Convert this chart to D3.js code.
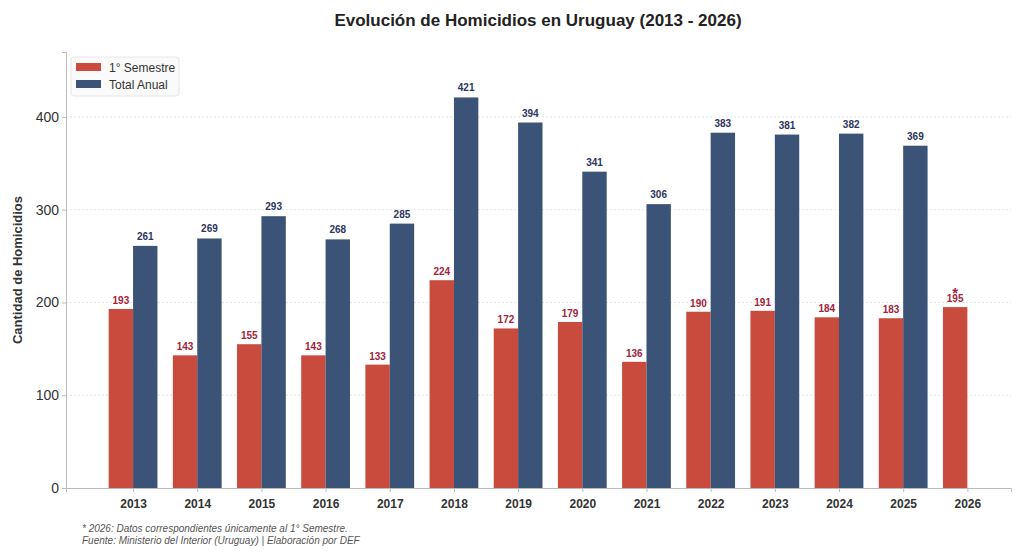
<!DOCTYPE html>
<html><head><meta charset="utf-8">
<script src="https://cdn.jsdelivr.net/npm/d3@7"></script>
<style>body{margin:0;background:#fff;font-family:"Liberation Sans",Arial,sans-serif;}</style>
</head><body><div id="chart"></div>
<script>
var years = ["2013","2014","2015","2016","2017","2018","2019","2020","2021","2022","2023","2024","2025","2026"];
var semestre = [193,143,155,143,133,224,172,179,136,190,191,184,183,195];
var anual = [261,269,293,268,285,421,394,341,306,383,381,382,369,null];
var yTicks = [0,100,200,300,400];

var w = 1024, h = 555;
var mLeft = 66, mRight = 1011, mTop = 52, mBottom = 488;
var red = "#c84b3d", blue = "#3a5377";

var svg = d3.select("#chart").append("svg").attr("width", w).attr("height", h);

var x = d3.scaleLinear().domain([-1.045, 13.68]).range([mLeft, mRight]);
var y = d3.scaleLinear().domain([0, 470]).range([mBottom, mTop]);
var bw = 0.38;

// grid
svg.append("g").selectAll("line").data(yTicks.slice(1)).enter().append("line")
  .attr("x1", mLeft).attr("x2", mRight).attr("y1", d => y(d)).attr("y2", d => y(d))
  .attr("stroke", "#ddd").attr("stroke-dasharray", "2,2").attr("stroke-width", 0.8);

// bars
svg.selectAll(".sem").data(semestre).enter().append("rect")
  .attr("x", (d, i) => x(i - bw)).attr("width", x(bw) - x(0))
  .attr("y", d => y(d)).attr("height", d => mBottom - y(d)).attr("fill", red);
svg.selectAll(".anu").data(anual).enter().filter(d => d != null).append("rect")
  .attr("x", (d, i) => x(i)).attr("width", x(bw) - x(0))
  .attr("y", d => y(d)).attr("height", d => mBottom - y(d)).attr("fill", blue);

// labels
svg.selectAll(".ls").data(semestre).enter().append("text")
  .attr("x", (d, i) => x(i - bw / 2)).attr("y", d => y(d) - 5)
  .attr("text-anchor", "middle").attr("font-size", 10).attr("font-weight", "bold")
  .attr("fill", "#a3223a").text(d => d);
svg.selectAll(".la").data(anual).enter().filter(d => d != null).append("text")
  .attr("x", (d, i) => x(i + bw / 2)).attr("y", d => y(d) - 6)
  .attr("text-anchor", "middle").attr("font-size", 10).attr("font-weight", "bold")
  .attr("fill", "#2b3560").text(d => d);
svg.append("text").attr("x", x(13 - bw / 2)).attr("y", y(195) - 9)
  .attr("text-anchor", "middle").attr("font-size", 15).attr("font-weight", "bold")
  .attr("fill", "#a3223a").text("*");

// axes
var ya = svg.append("g").attr("transform", "translate(" + mLeft + ",0)")
  .call(d3.axisLeft(y).tickValues(yTicks).tickSize(4));
ya.select(".domain").attr("stroke", "#bbb");
ya.selectAll("line").attr("stroke", "#bbb");
ya.selectAll("text").attr("font-size", 14).attr("fill", "#333").attr("font-family", "Liberation Sans");

var xa = svg.append("g").attr("transform", "translate(0," + mBottom + ")")
  .call(d3.axisBottom(x).tickValues(d3.range(years.length)).tickFormat(i => years[i]).tickSize(4));
xa.select(".domain").attr("stroke", "#bbb");
xa.selectAll("line").attr("stroke", "#bbb");
xa.selectAll("text").attr("font-size", 12).attr("font-weight", "bold").attr("fill", "#333")
  .attr("font-family", "Liberation Sans").attr("dy", "1.1em");

// titles
svg.append("text").attr("x", 538).attr("y", 26).attr("text-anchor", "middle")
  .attr("font-size", 17).attr("font-weight", "bold").attr("fill", "#222")
  .text("Evolución de Homicidios en Uruguay (2013 - 2026)");
svg.append("text").attr("transform", "translate(22,270) rotate(-90)").attr("text-anchor", "middle")
  .attr("font-size", 13).attr("font-weight", "bold").attr("fill", "#333").text("Cantidad de Homicidios");

// legend
var lg = svg.append("g").attr("transform", "translate(71,57)");
lg.append("rect").attr("width", 108).attr("height", 39).attr("rx", 3)
  .attr("fill", "#fafafa").attr("stroke", "#e6e6e6");
[["1° Semestre", red], ["Total Anual", blue]].forEach(function(d, i) {
  lg.append("rect").attr("x", 5).attr("y", 6 + i * 17).attr("width", 25).attr("height", 8).attr("fill", d[1]);
  lg.append("text").attr("x", 38).attr("y", 14.5 + i * 17).attr("font-size", 12).attr("fill", "#333").text(d[0]);
});

// footnote
svg.append("text").attr("x", 82).attr("y", 532).attr("font-size", 10).attr("font-style", "italic")
  .attr("fill", "#555").text("* 2026: Datos correspondientes únicamente al 1° Semestre.");
svg.append("text").attr("x", 82).attr("y", 544).attr("font-size", 10).attr("font-style", "italic")
  .attr("fill", "#555").text("Fuente: Ministerio del Interior (Uruguay) | Elaboración por DEF");
</script></body></html>
